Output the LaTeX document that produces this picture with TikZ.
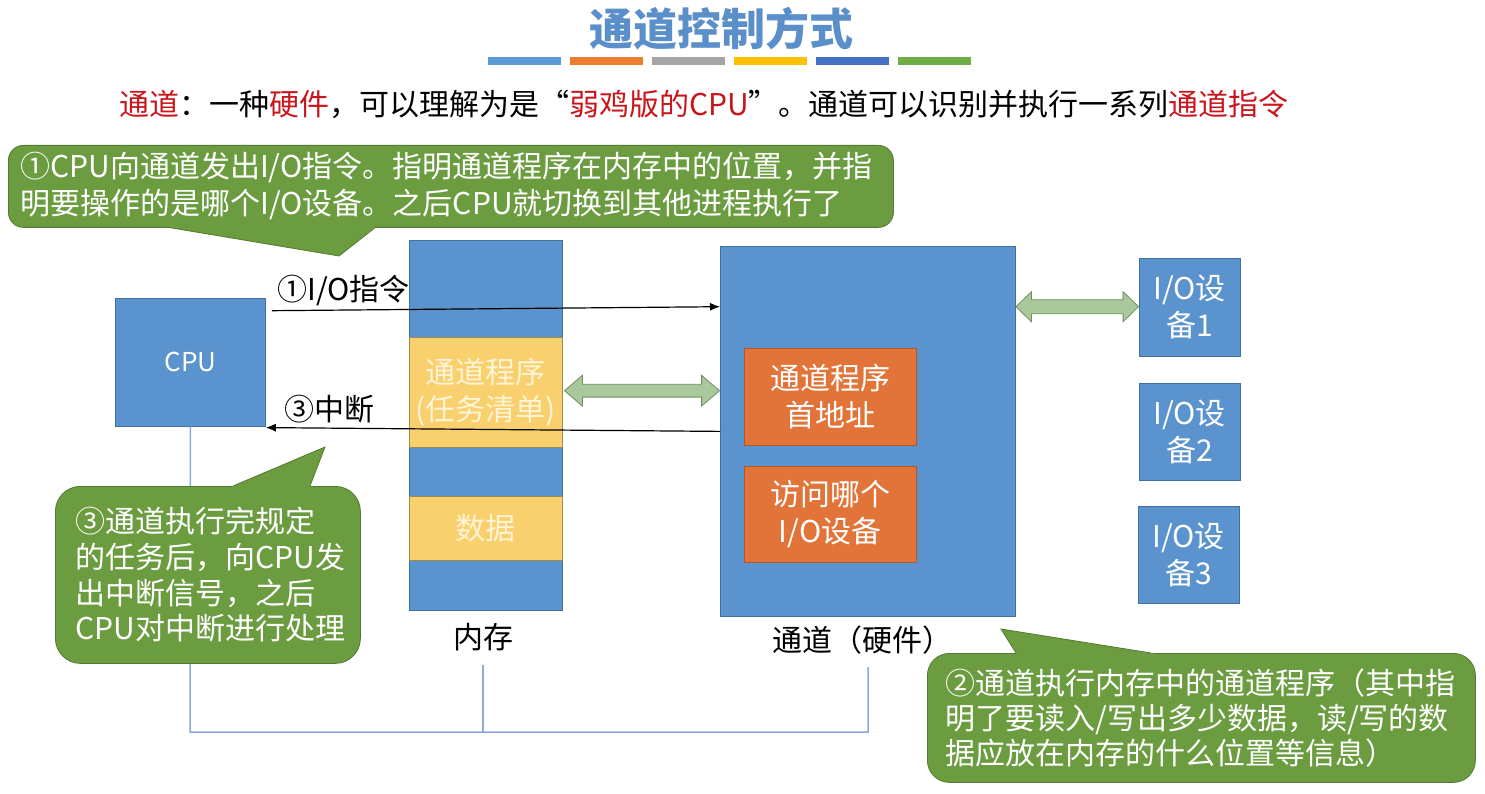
\documentclass[tikz,border=0pt]{standalone}
\usepackage{fontspec}
\setmainfont{Noto Sans CJK SC}
\usetikzlibrary{calc,arrows.meta}
\definecolor{boxblue}{HTML}{5A93CD}
\definecolor{boxblueline}{HTML}{41719C}
\definecolor{memyellow}{HTML}{F9D06E}
\definecolor{memyline}{HTML}{9E8A50}
\definecolor{chorange}{HTML}{E2743A}
\definecolor{chorangeline}{HTML}{B05A2A}
\definecolor{callgreen}{HTML}{6B9C40}
\definecolor{callgreenline}{HTML}{527A30}
\definecolor{arrgreen}{HTML}{A9C89B}
\definecolor{arrgreenline}{HTML}{6F8F60}
\definecolor{titleblue}{HTML}{5B8FCA}
\definecolor{hlred}{HTML}{C8161D}
\definecolor{busblue}{HTML}{8EAADB}
\definecolor{paletext}{HTML}{FFF4D6}
\definecolor{barA}{HTML}{5B9BD5}
\definecolor{barB}{HTML}{ED7D31}
\definecolor{barC}{HTML}{A5A5A5}
\definecolor{barD}{HTML}{FFC000}
\definecolor{barE}{HTML}{4472C4}
\definecolor{barF}{HTML}{70AD47}
\newcommand\dblarr[5]{%
  \draw[darrow] let \p1=(#1), \p2=(#2), \n1={\x2-\x1-2*#3} in
    (\p1) -- ++(#3,-#4) -- ++(0,#4-#5) -- ++(\n1,0) -- ++(0,#5-#4) -- (\p2)
    -- ++(-#3,#4) -- ++(0,#5-#4) -- ++(-\n1,0) -- ++(0,#4-#5) -- cycle;}
\begin{document}
\begin{tikzpicture}[x=1pt,y=-1pt,
  f30/.style={font=\fontsize{30}{37}\selectfont},
  box/.style={draw=boxblueline, fill=boxblue, line width=0.8pt, inner sep=0pt, anchor=north west, text=white, align=center, f30},
  ybox/.style={draw=memyline, fill=memyellow, line width=0.8pt, inner sep=0pt, anchor=north west, text=paletext, align=center, f30},
  obox/.style={draw=chorangeline, fill=chorange, line width=0.8pt, inner sep=0pt, anchor=north west, text=white, align=center, f30},
  callout/.style={draw=callgreenline, fill=callgreen, line width=0.8pt, anchor=north west, text=white, align=left, f30},
  tailfill/.style={fill=callgreen},
  tailline/.style={draw=callgreenline, line width=0.8pt},
  conn/.style={-{Latex[length=10pt,width=8pt]}, line width=1.2pt, black},
  darrow/.style={draw=arrgreenline, fill=arrgreen, line width=0.8pt},
  bus/.style={draw=busblue, line width=1.5pt},
  lbl/.style={f30, text=black, inner sep=0pt}
]
\useasboundingbox (0,0) rectangle (1485,794);

% title and bars
\node[font=\fontsize{44}{50}\selectfont\bfseries, text=titleblue, inner sep=0pt] (title) at (721,28.5) {通道控制方式};
\fill[barA] (488,57) rectangle ++(73,8);
\fill[barB] (570,57) rectangle ++(73,8);
\fill[barC] (652,57) rectangle ++(73,8);
\fill[barD] (734,57) rectangle ++(73,8);
\fill[barE] (816,57) rectangle ++(73,8);
\fill[barF] (898,57) rectangle ++(73,8);

\node[lbl, anchor=west] (sub) at (119,104) {\textcolor{hlred}{通道}：一种\textcolor{hlred}{硬件}，可以理解为是“\textcolor{hlred}{弱鸡版的CPU}”。通道可以识别并执行一系列\textcolor{hlred}{通道指令}};

% main boxes
\node[box, minimum width=150, minimum height=127.5, font=\fontsize{26}{30}\selectfont] (cpu) at (115,298) {CPU};
\node[box, minimum width=153, minimum height=370] (mem) at (408.5,240) {};
\node[ybox, minimum width=153, minimum height=110] (prog) at (408.5,337) {通道程序\\(任务清单)};
\node[ybox, minimum width=153, minimum height=64] (data) at (408.5,496) {数据};
\node[lbl] (memlbl) at (483,637) {内存};

\node[box, minimum width=295, minimum height=370] (chan) at (720,246) {};
\node[obox, minimum width=172.5, minimum height=97] (addr) at (743.5,348) {通道程序\\首地址};
\node[obox, minimum width=172.5, minimum height=96] (dev) at (743.5,466) {访问哪个\\I/O设备};
\node[lbl] (chanlbl) at (862,640) {通道（硬件）};

\node[box, minimum width=100.5, minimum height=97.5] (io1) at (1139,258) {I/O设\\备1};
\node[box, minimum width=100.5, minimum height=97] (io2) at (1139,383) {I/O设\\备2};
\node[box, minimum width=100.5, minimum height=97] (io3) at (1138,506) {I/O设\\备3};

% bus
\coordinate (busL) at (190,732);
\coordinate (busR) at (868,732);
\coordinate (memtap) at (483,665);
\coordinate (chtap) at (868,667);
\draw[bus] (cpu.south) -- (busL) -- (busR) -- (chtap);
\draw[bus] (memtap) -- (memtap |- busL);

% connectors
\draw[conn] ([xshift=6pt,yshift=-12.7pt]cpu.north east) -- node[lbl, pos=0.16, above=4pt] (lio) {①I/O指令} ([yshift=-60.7pt]chan.north west);
\draw[conn] (chan.west) -- node[lbl, pos=0.86, above=4pt] (lint) {③中断} ([yshift=-1.3pt]cpu.south east);

\coordinate (a1L) at (564.5,390.7);
\coordinate (a1R) at (719.5,390.7);
\dblarr{a1L}{a1R}{17.9}{15.35}{6.4}
\coordinate (a2L) at (1016,306.7);
\coordinate (a2R) at (1138.5,306.7);
\dblarr{a2L}{a2R}{15.4}{15}{7}

% callout 1
\node[callout, rounded corners=15, inner xsep=12, inner ysep=0, text width=861, minimum height=82] (c1) at (8,145) {①CPU向通道发出I/O指令。指明通道程序在内存中的位置，并指\\明要操作的是哪个I/O设备。之后CPU就切换到其他进程执行了};
\fill[tailfill] (148,224) -- (339,256) -- (379,224) -- cycle;
\draw[tailline] (166,227) -- (339,256) -- (376,227);

% callout 3
\node[callout, rounded corners=25, inner xsep=20, inner ysep=0, text width=265, minimum height=177, font=\fontsize{30}{35.7}\selectfont] (c3) at (55,486) {③通道执行完规定\\的任务后，向CPU发\\出中断信号，之后\\CPU对中断进行处理};
\fill[tailfill] (226,489) -- (325,447) -- (308.8,489) -- cycle;
\draw[tailline] (233,486) -- (325,447) -- (310,486);

% callout 2
\node[callout, rounded corners=22, inner xsep=18, inner ysep=0, text width=512, minimum height=129, font=\fontsize{30}{35}\selectfont] (c2) at (927,653) {②通道执行内存中的通道程序（其中指\\明了要读入/写出多少数据，读/写的数\\据应放在内存的什么位置等信息）};
\fill[tailfill] (1017.9,656) -- (1001,629) -- (1169.75,656) -- cycle;
\draw[tailline] (1016,653) -- (1001,629) -- (1151,653);
\end{tikzpicture}
\end{document}
